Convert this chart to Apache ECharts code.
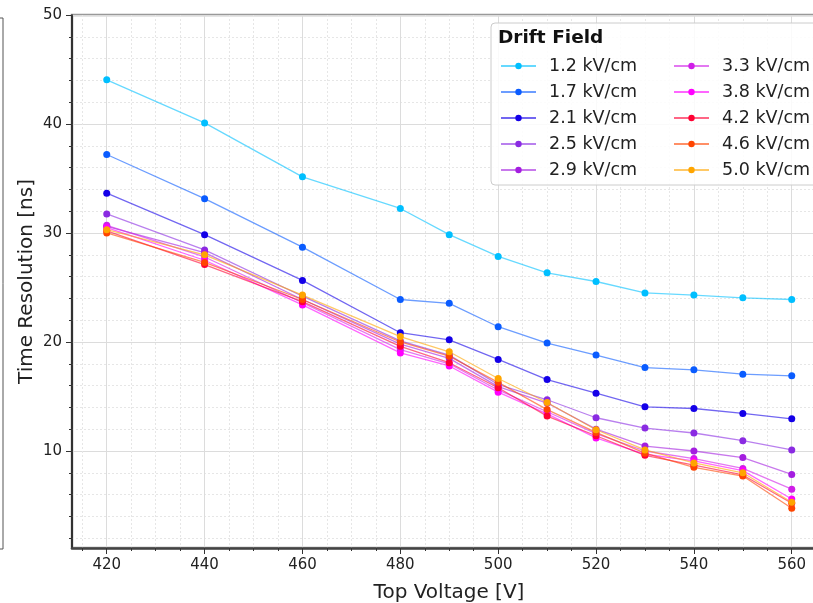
<!DOCTYPE html>
<html>
<head>
<meta charset="utf-8">
<script src="https://cdn.jsdelivr.net/npm/echarts@6/dist/echarts.min.js"></script>
<style>
html,body{margin:0;padding:0;background:#fff;}
#chart{width:813px;height:603px;}
</style>
</head>
<body>
<div id="chart"></div>
<script>
const voltages = [420, 440, 460, 480, 490, 500, 510, 520, 530, 540, 550, 560];
const fieldNames = ['1.2 kV/cm', '1.7 kV/cm', '2.1 kV/cm', '2.5 kV/cm', '2.9 kV/cm',
                    '3.3 kV/cm', '3.8 kV/cm', '4.2 kV/cm', '4.6 kV/cm', '5.0 kV/cm'];
const res_1_2 = [44.05, 40.1, 35.15, 32.25, 29.85, 27.85, 26.35, 25.55, 24.5, 24.3, 24.05, 23.9];
const res_1_7 = [37.2, 33.15, 28.7, 23.9, 23.55, 21.4, 19.9, 18.8, 17.65, 17.45, 17.05, 16.9];
const res_2_1 = [33.65, 29.85, 25.65, 20.85, 20.2, 18.4, 16.55, 15.3, 14.05, 13.9, 13.45, 12.95];
const res_2_5 = [31.75, 28.45, 24.2, 20.1, 18.8, 16.1, 14.7, 13.05, 12.1, 11.65, 10.95, 10.1];
const res_2_9 = [30.6, 28.2, 23.9, 19.8, 18.5, 15.9, 14.4, 12.0, 10.45, 10.0, 9.4, 7.85];
const res_3_3 = [30.7, 27.8, 23.6, 19.3, 18.0, 15.6, 13.6, 11.6, 10.0, 9.3, 8.4, 6.5];
const res_3_8 = [30.5, 27.5, 23.4, 19.0, 17.8, 15.4, 13.4, 11.2, 9.7, 9.1, 8.2, 5.6];
const res_4_2 = [30.2, 27.1, 23.7, 19.6, 18.1, 15.8, 13.2, 11.4, 9.6, 8.7, 7.8, 5.2];
const res_4_6 = [30.0, 27.3, 23.9, 20.0, 18.7, 16.3, 13.8, 11.7, 9.8, 8.5, 7.7, 4.75];
const res_5_0 = [30.3, 28.0, 24.3, 20.5, 19.1, 16.65, 14.45, 11.95, 10.1, 8.9, 8.0, 5.3];
const xTickLabels = [420, 440, 460, 480, 500, 520, 540, 560];
const yTickLabels = [10, 20, 30, 40, 50];

const allRes = [res_1_2, res_1_7, res_2_1, res_2_5, res_2_9, res_3_3, res_3_8, res_4_2, res_4_6, res_5_0];
const colors = ['#00bfff', '#0a5cff', '#1400e8', '#8a2be2', '#a41ee0',
                '#d01ee8', '#ff00ff', '#ff0033', '#ff4500', '#ffa500'];

const FONT = 'DejaVu Sans';
const chart = echarts.init(document.getElementById('chart'), null, {renderer: 'canvas'});

const series = allRes.map((arr, k) => ({
  name: fieldNames[k],
  type: 'line',
  data: voltages.map((v, i) => [v, arr[i]]),
  symbol: 'circle',
  symbolSize: 7,
  showSymbol: true,
  itemStyle: {color: colors[k], opacity: 1},
  lineStyle: {color: colors[k], width: 1.3, opacity: 0.6},
  emphasis: {disabled: true},
  z: 2
}));

const legendCommon = {
  orient: 'vertical',
  top: 52,
  itemWidth: 35,
  itemHeight: 8,
  itemGap: 8,
  selectedMode: false,
  textStyle: {fontSize: 17.5, fontFamily: FONT, color: '#222', lineHeight: 18, padding: [0, 0, 0, 8]},
  z: 10
};

const option = {
  animation: false,
  backgroundColor: '#fff',
  grid: {
    left: 72, top: 15, width: 754, height: 533,
    outerBoundsMode: 'none', containLabel: false,
    show: true, borderColor: '#999', borderWidth: 2.5, backgroundColor: 'transparent'
  },
  xAxis: {
    type: 'value', min: 412.9, max: 567, splitNumber: 8,
    name: 'Top Voltage [V]', nameLocation: 'middle', nameGap: 35, nameMoveOverlap: false,
    nameTextStyle: {fontSize: 20, fontFamily: FONT, color: '#222'},
    axisLine: {show: true, lineStyle: {color: '#444', width: 2.5}},
    axisTick: {show: true, inside: false, length: 6, lineStyle: {color: '#333', width: 1}, customValues: xTickLabels},
    minorTick: {show: true, splitNumber: 4, length: 3, lineStyle: {color: '#333', width: 1}},
    axisLabel: {fontSize: 15, fontFamily: FONT, color: '#222', margin: 10, customValues: xTickLabels},
    splitLine: {show: true, lineStyle: {color: '#dcdcdc', width: 1}},
    minorSplitLine: {show: true, lineStyle: {color: '#e6e6e6', width: 1, type: [2, 2]}}
  },
  yAxis: {
    type: 'value', min: 1.1, max: 50, splitNumber: 5,
    name: 'Time Resolution [ns]', nameLocation: 'middle', nameGap: 35, nameMoveOverlap: false,
    nameTextStyle: {fontSize: 20, fontFamily: FONT, color: '#222'},
    axisLine: {show: true, lineStyle: {color: '#111', width: 1.5}},
    axisTick: {show: true, inside: false, length: 6, lineStyle: {color: '#333', width: 1}, customValues: yTickLabels},
    minorTick: {show: true, splitNumber: 5, length: 3, lineStyle: {color: '#333', width: 1}},
    axisLabel: {fontSize: 15, fontFamily: FONT, color: '#222', margin: 10, customValues: yTickLabels},
    splitLine: {show: true, lineStyle: {color: '#dcdcdc', width: 1}},
    minorSplitLine: {show: true, lineStyle: {color: '#e6e6e6', width: 1, type: [2, 2]}}
  },
  legend: [
    Object.assign({}, legendCommon, {left: 495, data: fieldNames.slice(0, 5)}),
    Object.assign({}, legendCommon, {left: 668, data: fieldNames.slice(5)})
  ],
  graphic: [
    {
      type: 'rect', z: 5,
      shape: {x: 491, y: 23, width: 340, height: 162, r: 4},
      style: {fill: 'rgba(255,255,255,0.85)', stroke: '#cccccc', lineWidth: 1}
    },
    {
      type: 'text', z: 11, left: 498, top: 29,
      style: {text: 'Drift Field', font: 'bold 18.5px "DejaVu Sans"', fill: '#111'}
    },
    {
      type: 'rect', z: 5,
      shape: {x: -20, y: 18, width: 23, height: 531},
      style: {fill: 'none', stroke: '#555', lineWidth: 1}
    }
  ],
  series: series
};
chart.setOption(option);
</script>
</body>
</html>
